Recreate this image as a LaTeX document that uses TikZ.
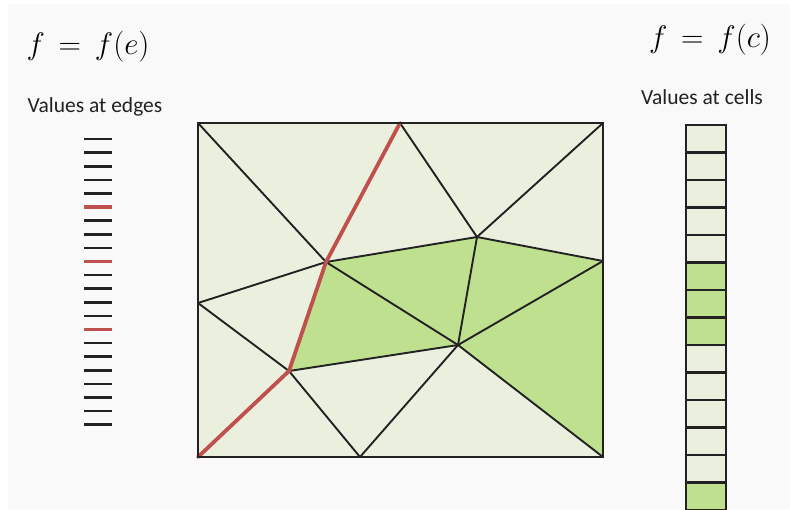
\documentclass[tikz,border=0pt]{standalone}
\usepackage[no-math]{fontspec}
\usepackage{graphicx}
\usepackage{xcolor}
\usepackage{tikz}
\usetikzlibrary{calc,positioning}
\newfontfamily\labelfont{Carlito}
\definecolor{figLight}{HTML}{EBF0DE}
\definecolor{figGreen}{HTML}{BFE18F}
\definecolor{figRed}{HTML}{C0504D}
\definecolor{figLine}{HTML}{222222}
\definecolor{figBack}{HTML}{F9F9F9}
\newcommand{\bigformula}[1]{\scalebox{1.25}{\Huge$#1$}}

\begin{document}
\begin{tikzpicture}[
  % one unit = one pixel of the reference, y grows downwards
  x=1pt, y=-1pt,
  meshedge/.style={draw=figLine, line width=1.9pt, line cap=round},
  cutedge/.style={draw=figRed, line width=3.8pt, line cap=round},
  tick/.style={
    rectangle, fill=figLine, inner sep=0pt,
    minimum width=28pt, minimum height=2.6pt
  },
  redtick/.style={tick, fill=figRed, minimum height=3.8pt},
  cell/.style={
    rectangle, inner sep=0pt,
    minimum width=40pt, minimum height=27.5pt
  },
  cellborder/.style={draw=figLine, line width=1.9pt},
  caption/.style={font=\labelfont\fontsize{21.5}{25}\selectfont, text=figLine},
]
\useasboundingbox (0,0) rectangle (790,509);
\fill[white] (0,0) rectangle (790,509);
\fill[figBack] (8,4) rectangle (790,509);

% --- Titles ---
\node (fe) at (88,47) {\bigformula{f\,=\,f(e)}};
\node[caption] (edgetxt) at (95,107) {Values at edges};
\node (fc) at (710,40) {\bigformula{f\,=\,f(c)}};
\node[caption] (celltxt) at (702,97) {Values at cells};

% --- Mesh vertices ---
\coordinate (TL) at (198,123);
\coordinate (A)  at (400,123);
\coordinate (TR) at (603,123);
\coordinate (D)  at (603,261);
\coordinate (BR) at (603,457);
\coordinate (H)  at (360,457);
\coordinate (BL) at (198,457);
\coordinate (E)  at (198,303);
\coordinate (C)  at (326,262);
\coordinate (B)  at (477,237);
\coordinate (F)  at (458,345);
\coordinate (G)  at (289,371);

% --- Cells ---
\fill[figLight] (TL) rectangle (BR);
\fill[figGreen] (C) -- (B) -- (F) -- (G) -- cycle;
\fill[figGreen] (B) -- (D) -- (BR) -- (F) -- cycle;

% --- Edges ---
\foreach \p/\q in {TL/C, A/B, TR/B, B/C, B/D, B/F, C/E, C/F,
                   D/F, E/G, G/F, G/H, H/F, F/BR} {
  \draw[meshedge] (\p) -- (\q);
}
\draw[cutedge] (A) -- (C) -- (G) -- (BL);
\draw[figLine, line width=2.2pt] (TL) rectangle (BR);

% --- Values at edges ---
\foreach \i in {0,...,21} {
  \ifnum\i=5 \def\tk{redtick}\else
  \ifnum\i=9 \def\tk{redtick}\else
  \ifnum\i=14 \def\tk{redtick}\else \def\tk{tick}\fi\fi\fi
  \node[\tk] (d-\i) at (98,{139+\i*13.6}) {};
}

% --- Values at cells ---
\foreach \i/\c in {0/figLight, 1/figLight, 2/figLight, 3/figLight,
                   4/figLight, 5/figGreen, 6/figGreen, 7/figGreen,
                   8/figLight, 9/figLight, 10/figLight, 11/figLight,
                   12/figLight, 13/figGreen} {
  \node[cell, fill=\c] (c-\i) at (706,{138.75+\i*27.5}) {};
}
\foreach \i in {0,...,13} {
  \draw[cellborder] (c-\i.north west) rectangle (c-\i.south east);
}

\end{tikzpicture}
\end{document}
